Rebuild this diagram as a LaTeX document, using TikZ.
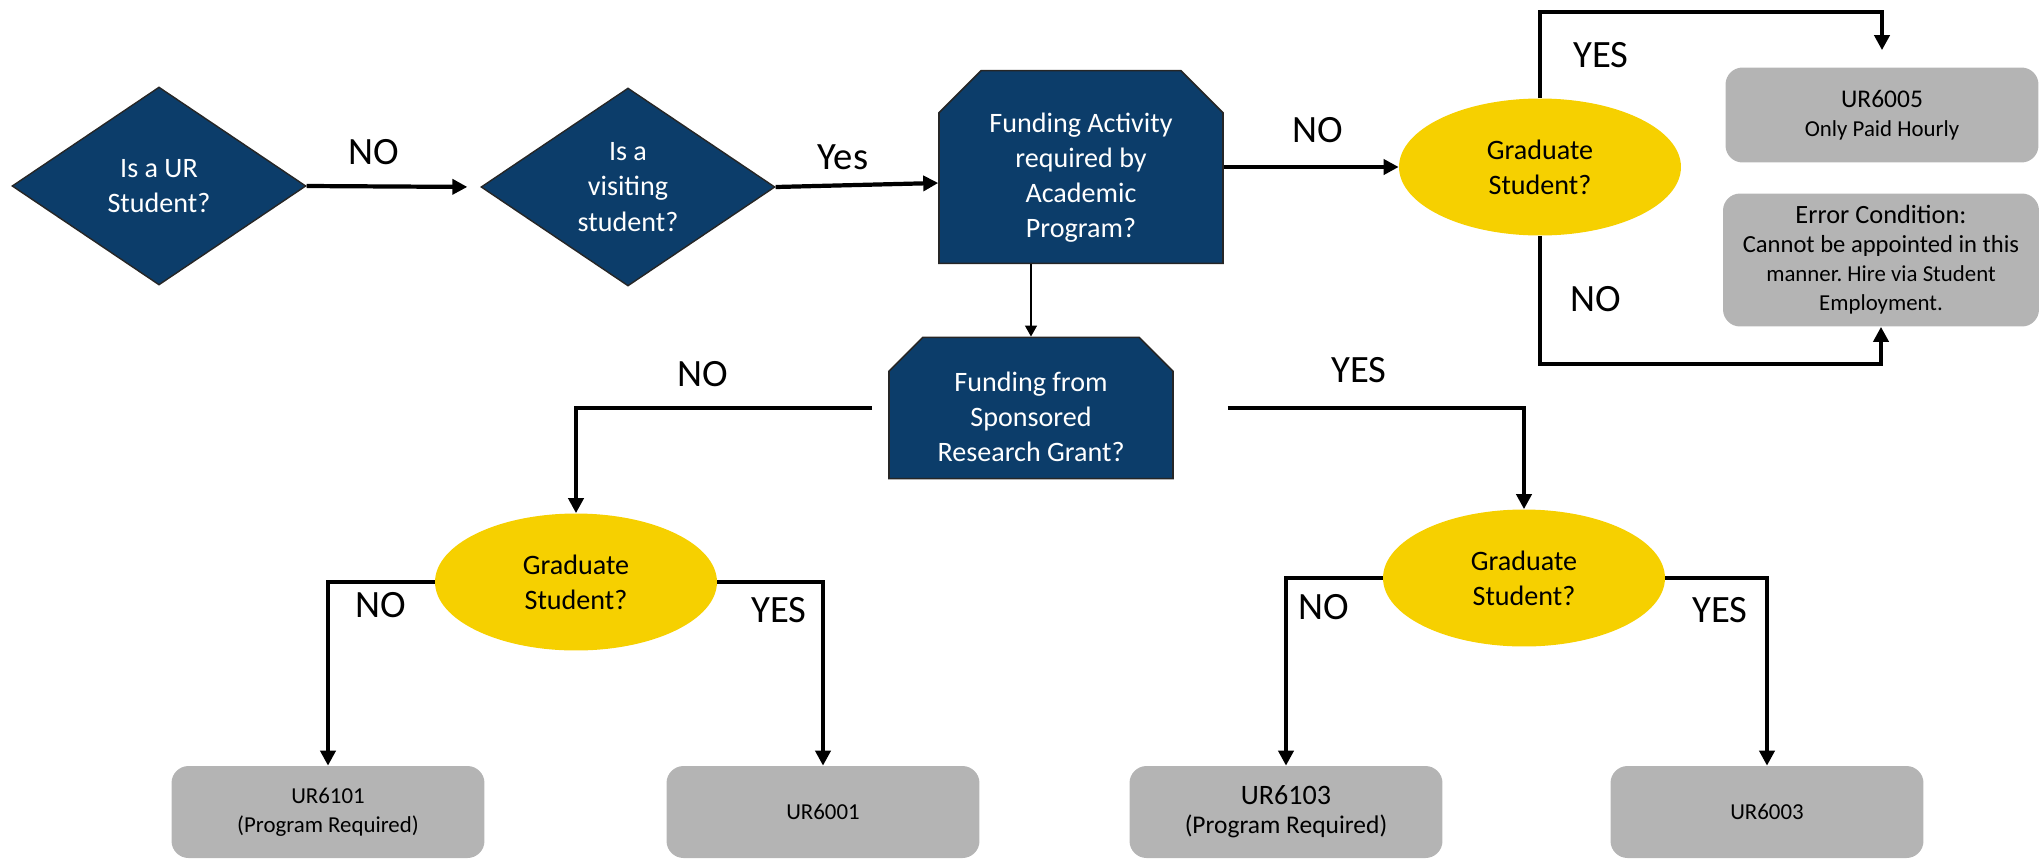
\documentclass[tikz,border=0pt]{standalone}
\usepackage{fontspec}
\setmainfont{Carlito}
\usetikzlibrary{shapes.geometric,shapes.misc,arrows.meta}
\definecolor{urblue}{HTML}{0C3D6A}
\definecolor{urgold}{HTML}{F6D000}
\definecolor{urgray}{HTML}{B4B4B4}
\frenchspacing
\tikzset{
  decision/.style={diamond, draw=black!85, line width=0.8pt, fill=urblue, text=white,
    align=center, inner sep=0pt, minimum width=5.88cm, minimum height=3.96cm,
    font=\fontsize{16}{20}\selectfont},
  fundbox/.style={chamfered rectangle, chamfered rectangle corners={north west,north east},
    draw=black!85, line width=0.9pt, fill=urblue, text=white, align=center,
    inner sep=0pt, font=\fontsize{16}{20}\selectfont},
  gradq/.style={ellipse, fill=urgold, align=center, inner sep=0pt,
    minimum width=5.64cm, minimum height=2.74cm, font=\fontsize{16}{20}\selectfont},
  codebox/.style={rectangle, rounded corners=0.34cm, fill=urgray, align=center,
    inner sep=0pt, minimum width=6.26cm, minimum height=1.84cm,
    font=\fontsize{13}{16.5}\selectfont},
  flow/.style={line width=2.4pt, -{Triangle[length=0.3cm,width=0.3cm]}},
  thinflow/.style={line width=0.8pt, -{Triangle[length=0.22cm,width=0.24cm]}},
  lbl/.style={font=\fontsize{22}{26}\selectfont, inner sep=0pt, text depth=0pt, text height=1.38ex}
}
\begin{document}
\begin{tikzpicture}[x=0.02cm, y=-0.02cm]
  \useasboundingbox (0,0) rectangle (2040,860);

  % questions
  \node[decision] (urstu) at (159,186) {Is a UR\\Student?};
  \node[decision] (visit) at (628,187) {Is a\\visiting\\student?};
  \node[fundbox, minimum width=5.68cm, minimum height=3.36cm,
    chamfered rectangle xsep=0.42cm, chamfered rectangle ysep=0.42cm]
    (activ) at (1081,167) {\rule{0pt}{23pt}Funding Activity\\required by\\Academic\\Program?};
  \node[fundbox, minimum width=5.68cm, minimum height=2.76cm,
    chamfered rectangle xsep=0.34cm, chamfered rectangle ysep=0.34cm]
    (grant) at (1031,408) {\rule{0pt}{21pt}Funding from\\Sponsored\\Research Grant?};

  \node[gradq] (gradtop) at (1540,167) {Graduate\\Student?};
  \node[gradq] (gradl) at (576,582) {Graduate\\Student?};
  \node[gradq] (gradr) at (1524,578) {Graduate\\Student?};

  % job codes
  \node[codebox, minimum width=6.26cm, minimum height=1.9cm] (ur6005) at (1882,115)
    {\fontsize{14.5}{18}\selectfont UR6005\\Only Paid Hourly};
  \node[codebox, minimum width=6.32cm, minimum height=2.66cm] (errc) at (1881,260)
    {\fontsize{15}{16.5}\selectfont Error Condition:\\
     \fontsize{14}{16.5}\selectfont Cannot be appointed in this\\manner. Hire via Student\\Employment.};
  \node[codebox] (ur6101) at (328,812) {UR6101\\(Program Required)};
  \node[codebox] (ur6001) at (823,812) {UR6001};
  \node[codebox] (ur6103) at (1286,812)
    {\fontsize{16}{18}\selectfont UR6103\\\fontsize{14.5}{17}\selectfont (Program Required)};
  \node[codebox] (ur6003) at (1767,812) {UR6003};

  \coordinate (looptop) at (0,12);
  \coordinate (loopbot) at (0,364);

  % connectors
  \draw[flow, shorten >=0.26cm] (urstu.east) -- (visit.west);
  \draw[flow] (visit.east) -- ([yshift=-0.32cm]activ.west);
  \draw[flow] (activ.east) -- (gradtop.west);
  \draw[flow, shorten >=0.34cm] (gradtop.north) -- (gradtop.north |- looptop) -| (ur6005.north);
  \draw[flow] (gradtop.south) -- (gradtop.south |- loopbot) -| (errc.south);
  \draw[thinflow] (activ.south -| grant.north) -- (grant.north);
  \draw[flow, shorten <=0.32cm] (grant.west) -| (gradl.north);
  \draw[flow, shorten <=1.08cm] (grant.east) -| (gradr.north);
  \draw[flow] (gradl.west) -| (ur6101.north);
  \draw[flow] (gradl.east) -| (ur6001.north);
  \draw[flow] (gradr.west) -| (ur6103.north);
  \draw[flow] (gradr.east) -| (ur6003.north);

  % branch labels
  \node[lbl] (lno1) at (374,159) {NO};
  \node[lbl] (lyes1) at (843,164) {Yes};
  \node[lbl] (lno2) at (1318,137) {NO};
  \node[lbl] (lyes2) at (1601,62) {YES};
  \node[lbl] (lno3) at (1596,306) {NO};
  \node[lbl] (lno4) at (703,381) {NO};
  \node[lbl] (lyes3) at (1359,377) {YES};
  \node[lbl] (lno5) at (381,612) {NO};
  \node[lbl] (lyes4) at (779,617) {YES};
  \node[lbl] (lno6) at (1324,614) {NO};
  \node[lbl] (lyes5) at (1720,617) {YES};
\end{tikzpicture}
\end{document}
